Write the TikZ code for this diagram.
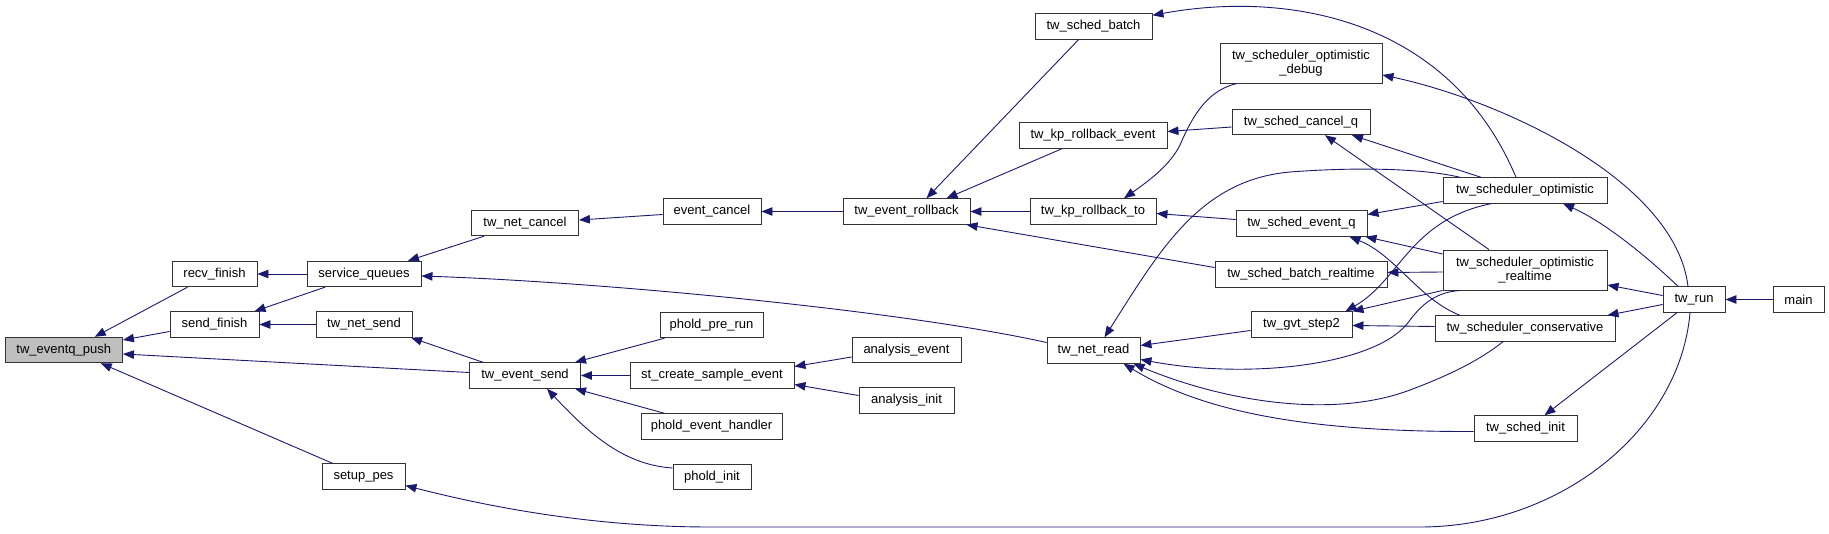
\documentclass[tikz,border=0pt]{standalone}
\usepackage{fontspec}
\setmainfont{Liberation Sans}
\usepackage{xcolor}
\definecolor{MidnightBlue}{HTML}{191970}
\definecolor{PushGray}{HTML}{BFBFBF}
\usepackage{tikz}
\usetikzlibrary{arrows.meta, positioning}

\begin{document}
\begin{tikzpicture}[x=1pt,y=-1pt,
  fn/.style={draw=black!80, line width=0.9pt, fill=white, minimum height=25.5pt, inner sep=0pt,
    font=\fontsize{13}{14.5}\selectfont, align=center},
  call/.style={draw=MidnightBlue, line width=0.9pt, {Triangle[length=11pt,width=8.5pt]}-}]
  \useasboundingbox (0,0) rectangle (1829,534);
  % functions, one column per call depth
  \node[fn, fill=PushGray, minimum width=117.5] (push) at (63.75,350) {tw\_eventq\_push};
  \node[fn, minimum width=85] (recv) at (214.5,274) {recv\_finish};
  \node[fn, minimum width=89] (send) at (214.5,324.5) {send\_finish};
  \node[fn, minimum width=114] (sq) at (364,274) {service\_queues};
  \node[fn, minimum width=96] (netsend) at (364,324.5) {tw\_net\_send};
  \node[fn, minimum width=83] (setup) at (363.5,476.5) {setup\_pes};
  \node[fn, minimum width=107] (netcancel) at (525,223) {tw\_net\_cancel};
  \node[fn, minimum width=111] (eventsend) at (525,375.5) {tw\_event\_send};
  \node[fn, minimum width=98] (evcancel) at (712,211.5) {event\_cancel};
  \node[fn, minimum width=103] (prerun) at (711.5,325) {phold\_pre\_run};
  \node[fn, minimum width=164] (stcreate) at (712,375.5) {st\_create\_sample\_event};
  \node[fn, minimum width=141] (handler) at (711.5,426.5) {phold\_event\_handler};
  \node[fn, minimum width=78] (pinit) at (712,477) {phold\_init};
  \node[fn, minimum width=127] (rollback) at (906.5,211.5) {tw\_event\_rollback};
  \node[fn, minimum width=109] (anevent) at (906.5,350) {analysis\_event};
  \node[fn, minimum width=95] (aninit) at (906.5,400.5) {analysis\_init};
  \node[fn, minimum width=117] (batch) at (1093.5,26.5) {tw\_sched\_batch};
  \node[fn, minimum width=148] (kpev) at (1093,135.5) {tw\_kp\_rollback\_event};
  \node[fn, minimum width=126] (kpto) at (1093,211.5) {tw\_kp\_rollback\_to};
  \node[fn, minimum width=93] (netread) at (1093.5,350.5) {tw\_net\_read};
  \node[fn, minimum width=162, minimum height=40] (debug) at (1301,63) {tw\_scheduler\_optimistic\\\_debug};
  \node[fn, minimum width=138] (cancelq) at (1301,122) {tw\_sched\_cancel\_q};
  \node[fn, minimum width=131] (eventq) at (1301.5,223.5) {tw\_sched\_event\_q};
  \node[fn, minimum width=172] (batchrt) at (1301,274.5) {tw\_sched\_batch\_realtime};
  \node[fn, minimum width=101] (gvt) at (1301.5,324.5) {tw\_gvt\_step2};
  \node[fn, minimum width=164] (opt) at (1525,190.5) {tw\_scheduler\_optimistic};
  \node[fn, minimum width=164, minimum height=40] (optrt) at (1525,270) {tw\_scheduler\_optimistic\\\_realtime};
  \node[fn, minimum width=180] (cons) at (1525,328.5) {tw\_scheduler\_conservative};
  \node[fn, minimum width=103] (schedinit) at (1525.5,428.5) {tw\_sched\_init};
  \node[fn, minimum width=62] (twrun) at (1694,299.5) {tw\_run};
  \node[fn, minimum width=51] (main) at (1798.5,299.5) {main};

  % callers of tw_eventq_push and its left part
  \draw[call] ([xshift=31]push.north) -- ([xshift=-27]recv.south);
  \draw[call] ([yshift=10]push.east) -- ([yshift=-7]send.west);
  \draw[call] ([yshift=-4]push.east) -- ([yshift=3]eventsend.west);
  \draw[call] ([xshift=37]push.south) -- ([xshift=-31]setup.north);
  \draw[call] (recv.east) -- (sq.west);
  \draw[call] ([xshift=40]send.north) -- ([xshift=-39]sq.south);
  \draw[call] (send.east) -- (netsend.west);
  \draw[call] ([xshift=44]sq.north) -- ([xshift=-41]netcancel.south);
  \draw[call] ([yshift=-2]sq.east) .. controls (600,282) and (900,310) .. ([yshift=8]netread.west);
  \draw[call] ([xshift=47]netsend.south) -- ([xshift=-42]eventsend.north);
  \draw[call] ([yshift=-9]setup.east) .. controls (520,515) and (620,527) .. (710,527) -- (1420,527)
    .. controls (1560,527) and (1680,430) .. ([xshift=-4]twrun.south);
  \draw[call] ([yshift=3]netcancel.east) -- ([yshift=-3]evcancel.west);
  \draw[call] ([xshift=50]eventsend.north) -- ([xshift=-47]prerun.south);
  \draw[call] (eventsend.east) -- (stcreate.west);
  \draw[call] ([xshift=50]eventsend.south) -- ([xshift=-47]handler.north);
  \draw[call] ([xshift=22]eventsend.south) .. controls (590,435) and (625,465) .. ([yshift=9]pinit.west);
  \draw[call] (evcancel.east) -- (rollback.west);
  \draw[call] ([yshift=9]stcreate.east) -- ([yshift=-7]anevent.west);
  \draw[call] ([yshift=-9]stcreate.east) -- ([yshift=5]aninit.west);

  % rollback and scheduler part
  \draw[call] ([xshift=20]rollback.north) -- ([xshift=-15]batch.south);
  \draw[call] ([xshift=40]rollback.north) -- ([xshift=-31]kpev.south);
  \draw[call] (rollback.east) -- (kpto.west);
  \draw[call] ([xshift=60]rollback.south) -- ([yshift=7]batchrt.west);
  \draw[call] ([yshift=4]kpev.east) -- ([yshift=-5]cancelq.west);
  \draw[call] ([xshift=31]kpto.north) .. controls (1150,180) and (1170,165) .. (1180,145)
    .. controls (1195,110) and (1210,90) .. ([xshift=-64]debug.south);
  \draw[call] ([yshift=-2]kpto.east) -- ([yshift=4]eventq.west);
  \draw[call] ([yshift=-2]batch.north east) .. controls (1290,-10) and (1450,20) .. ([xshift=-9]opt.north);
  \draw[call] ([yshift=-12]debug.east) .. controls (1500,100) and (1675,180) .. ([xshift=-6]twrun.north);
  \draw[call] ([xshift=51]cancelq.south) -- ([xshift=-44]opt.north);
  \draw[call] ([xshift=24]cancelq.south) -- ([xshift=-36]optrt.north);
  \draw[call] ([yshift=9]eventq.east) -- ([yshift=-11]opt.west);
  \draw[call] ([xshift=-2]eventq.south east) -- ([yshift=16]optrt.west);
  \draw[call] ([xshift=48]eventq.south) .. controls (1395,255) and (1420,300) .. ([xshift=-65]cons.north);
  \draw[call] ([yshift=2]batchrt.east) -- ([yshift=-2]optrt.west);
  \draw[call] ([xshift=11]netread.north) .. controls (1160,250) and (1200,180) .. (1290,172)
    .. controls (1370,166) and (1430,170) .. ([xshift=-65]opt.north);
  \draw[call] ([yshift=5]netread.east) -- ([yshift=-6]gvt.west);
  \draw[call] ([yshift=-9]netread.east) .. controls (1250,380) and (1380,365) .. (1410,320)
    .. controls (1425,300) and (1440,292) .. ([xshift=-65]optrt.south);
  \draw[call] ([xshift=40]netread.south) .. controls (1220,400) and (1330,420) .. (1410,390)
    .. controls (1450,375) and (1480,360) .. ([xshift=-22]cons.south);
  \draw[call] ([xshift=30]netread.south) .. controls (1200,410) and (1300,432) .. ([yshift=-3]schedinit.west);
  \draw[call] ([xshift=44]gvt.north) .. controls (1400,280) and (1410,220) .. ([xshift=-34]opt.south);
  \draw[call] (gvt.north east) -- (optrt.south west);
  \draw[call] ([yshift=-1]gvt.east) -- ([yshift=2]cons.west);

  % tw_run and main
  \draw[call] ([xshift=38]opt.south) .. controls (1600,220) and (1640,250) .. ([xshift=-16]twrun.north);
  \draw[call] ([yshift=-15]optrt.east) -- ([yshift=4]twrun.west);
  \draw[call] ([xshift=-8]cons.north east) -- ([yshift=-5]twrun.west);
  \draw[call] ([xshift=19]schedinit.north) -- ([xshift=-17]twrun.south);
  \draw[call] (twrun.east) -- (main.west);
\end{tikzpicture}
\end{document}
